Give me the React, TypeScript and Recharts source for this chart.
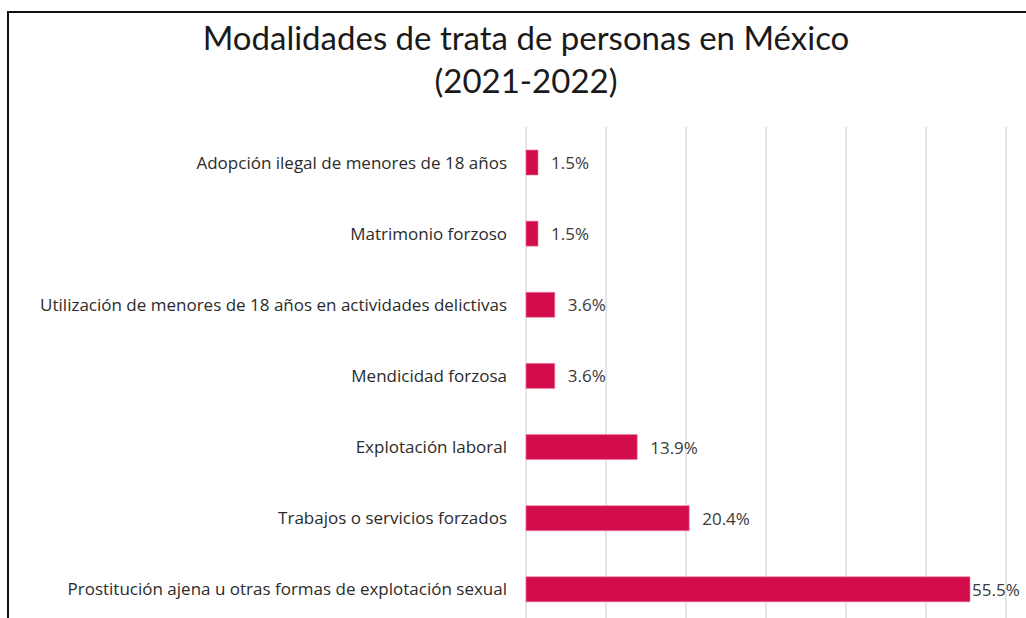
import { BarChart, Bar, XAxis, YAxis, CartesianGrid, LabelList } from 'recharts';

const categories = [
  'Adopción ilegal de menores de 18 años',
  'Matrimonio forzoso',
  'Utilización de menores de 18 años en actividades delictivas',
  'Mendicidad forzosa',
  'Explotación laboral',
  'Trabajos o servicios forzados',
  'Prostitución ajena u otras formas de explotación sexual',
];
const shares = [1.5, 1.5, 3.6, 3.6, 13.9, 20.4, 55.5];
const xTicks = [0, 10, 20, 30, 40, 50, 60];

const data = categories.map((name, i) => ({ name, value: shares[i] }));

const TITLE_FONT = 'Lato, "Noto Sans", sans-serif';
const FONT = '"Open Sans", "Noto Sans", sans-serif';
const BAR_COLOR = '#d30c4b';

const ValueLabel = (props: any) => {
  const { x, y, width, height, value } = props;
  // the widest bar has its label squeezed against the end, as in the source
  const gap = value > 50 ? 2 : 13;
  return (
    <text
      x={x + width + gap}
      y={y + height / 2}
      dominantBaseline="central"
      fontFamily={FONT}
      fontSize={17}
      fill="#3a3a3a"
    >
      {value.toFixed(1)}%
    </text>
  );
};

export default function App() {
  return (
    <div style={{ position: 'absolute', left: 0, top: 0, width: 1026, height: 618, overflow: 'hidden', background: '#fff' }}>
      <div
        style={{
          position: 'absolute',
          left: 7,
          top: 11,
          width: 1100,
          height: 700,
          borderTop: '2px solid #111',
          borderLeft: '2px solid #111',
        }}
      />
      <div
        style={{
          position: 'absolute',
          left: 0,
          top: 16,
          width: 1052,
          textAlign: 'center',
          fontFamily: TITLE_FONT,
          fontSize: 33,
          lineHeight: '43px',
          color: '#1a1a1a',
        }}
      >
        Modalidades de trata de personas en México
        <br />
        (2021-2022)
      </div>
      <div style={{ position: 'absolute', left: 0, top: 0 }}>
        <BarChart
          width={1026}
          height={660}
          data={data}
          layout="vertical"
          margin={{ top: 127, right: 20, bottom: 35, left: 0 }}
          barCategoryGap={0}
        >
          <CartesianGrid horizontal={false} stroke="#dcdcdc" strokeWidth={1.5} />
          <XAxis type="number" domain={[0, 60]} ticks={xTicks} hide />
          <YAxis
            type="category"
            dataKey="name"
            width={526}
            axisLine={false}
            tickLine={false}
            tickMargin={13}
            interval={0}
            tick={{ fontFamily: FONT, fontSize: 17, fill: '#2b2b2b' }}
          />
          <Bar dataKey="value" fill={BAR_COLOR} stroke="#f07a9c" strokeWidth={0.6} barSize={25} isAnimationActive={false}>
            <LabelList dataKey="value" content={<ValueLabel />} />
          </Bar>
        </BarChart>
      </div>
    </div>
  );
}
